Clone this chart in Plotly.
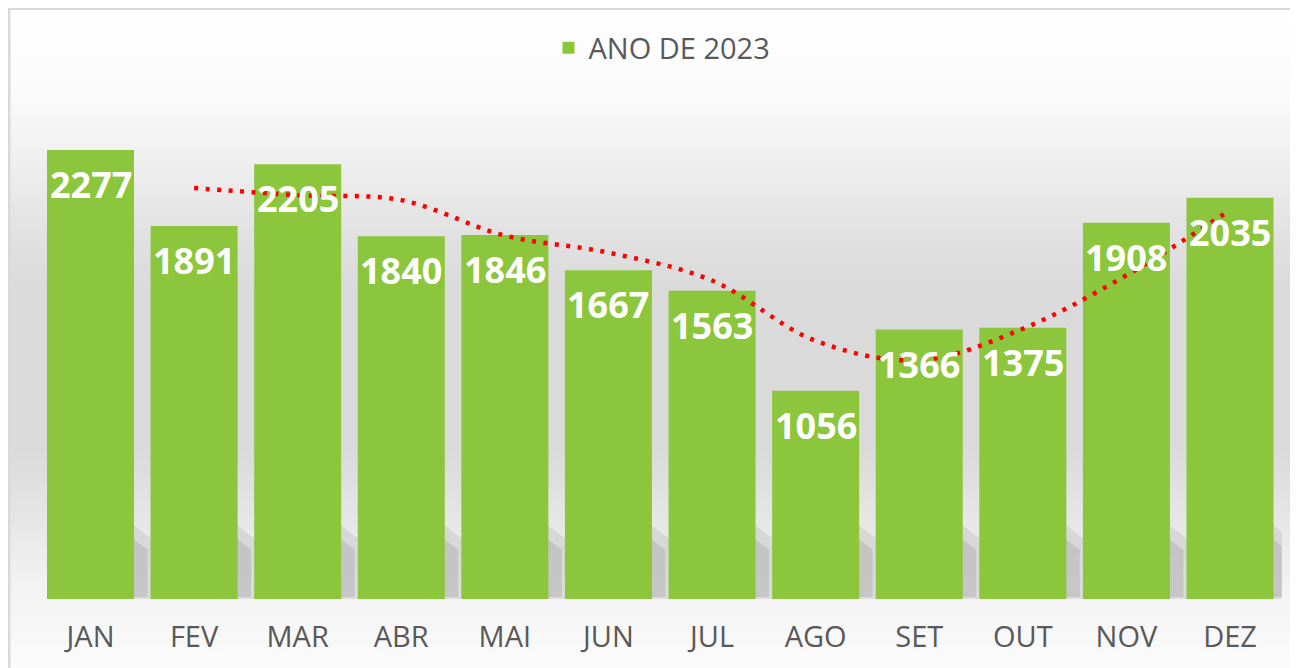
import plotly.graph_objects as go
import pandas as pd

months = ["JAN", "FEV", "MAR", "ABR", "MAI", "JUN", "JUL", "AGO", "SET", "OUT", "NOV", "DEZ"]
values = [2277, 1891, 2205, 1840, 1846, 1667, 1563, 1056, 1366, 1375, 1908, 2035]
series_name = "ANO DE 2023"

# Excel-style 2-period moving average trendline derived from the bar values
trend = pd.Series(values).rolling(2).mean().tolist()
trend = [None if pd.isna(v) else v for v in trend]

# page has an 8px body margin: screen coordinate = figure coordinate + 8
OFF = 8
W, H = 1290, 660
def px(x):
    return (x - OFF) / W
def py(y):
    return 1 - (y - OFF) / H

def hexmix(c1, c2, t):
    a = [int(c1[i:i + 2], 16) for i in (1, 3, 5)]
    b = [int(c2[i:i + 2], 16) for i in (1, 3, 5)]
    return "#" + "".join(f"{round(a[k] + (b[k] - a[k]) * t):02x}" for k in range(3))

stops = [(8, "#ffffff"), (90, "#fbfbfb"), (150, "#f1f1f1"), (230, "#e2e2e2"),
         (290, "#dadada"), (450, "#dadada"), (520, "#e6e6e6"), (590, "#f3f3f3"), (668, "#fbfbfb")]

def bg_color(y):
    for (y0, c0), (y1, c1) in zip(stops[:-1], stops[1:]):
        if y0 <= y <= y1:
            return hexmix(c0, c1, (y - y0) / (y1 - y0))
    return stops[-1][1]

shapes = []
step = 4
y = 8
while y < 668:
    shapes.append(dict(type="rect", xref="paper", yref="paper", layer="below",
                       x0=px(10), x1=1, y0=max(0, py(y + step)), y1=py(y),
                       fillcolor=bg_color(y + step / 2), line=dict(width=0)))
    y += step

# soft slanted shadows behind the bars
for i in range(len(months)):
    shapes.append(dict(type="path", xref="x", yref="y", layer="below",
                       path=f"M {i + 0.3},0 L {i + 0.6},0 L {i + 0.6},300 L {i + 0.3},420 Z",
                       fillcolor="rgba(200,200,200,0.55)", line=dict(width=0)))
    shapes.append(dict(type="path", xref="x", yref="y", layer="below",
                       path=f"M {i + 0.3},10 L {i + 0.55},10 L {i + 0.55},250 L {i + 0.3},350 Z",
                       fillcolor="rgba(180,180,180,0.55)", line=dict(width=0)))

# frame (left and top edges of the chart)
shapes.append(dict(type="line", xref="paper", yref="paper", x0=px(9.2), x1=px(9.2), y0=0, y1=1,
                   line=dict(color="#d9d9d9", width=2.5)))
shapes.append(dict(type="line", xref="paper", yref="paper", x0=0, x1=1, y0=py(8.8), y1=py(8.8),
                   line=dict(color="#d9d9d9", width=2.5)))

fig = go.Figure()
fig.add_trace(go.Bar(x=months, y=values, name=series_name,
                     marker=dict(color="#8cc63c", line=dict(width=0)),
                     showlegend=True))
fig.add_trace(go.Scatter(x=months, y=trend, mode="lines", showlegend=False,
                         line=dict(color="#ff0000", width=4.5, dash="4px,7.5px",
                                   shape="spline", smoothing=1.0),
                         hoverinfo="skip", connectgaps=False))

annotations = []
for m, v in zip(months, values):
    annotations.append(dict(x=m, y=v, xref="x", yref="y", text=f"<b>{v}</b>",
                            showarrow=False, yanchor="top", yshift=-8,
                            font=dict(family="Open Sans", size=36, color="#ffffff")))

fig.update_layout(
    width=W, height=H,
    margin=dict(l=0, r=0, t=0, b=0),
    paper_bgcolor="#ffffff",
    plot_bgcolor="rgba(0,0,0,0)",
    bargap=0.16,
    showlegend=True,
    legend=dict(orientation="h", x=px(662), xanchor="center", y=py(48), yanchor="middle",
                font=dict(family="Open Sans", size=29, color="#595959"),
                bgcolor="rgba(0,0,0,0)"),
    xaxis=dict(domain=[px(38.7), px(1281.8)], range=[-0.5, len(months) - 0.5],
               showgrid=False, zeroline=False, showline=False,
               ticks="", tickfont=dict(family="Open Sans", size=29, color="#595959"),
               ticklabelstandoff=18, fixedrange=True),
    yaxis=dict(domain=[py(599), py(106)], range=[0, 2500], showgrid=False, zeroline=False,
               showline=False, showticklabels=False, ticks="", fixedrange=True),
    shapes=shapes,
    annotations=annotations,
)

fig.write_html("out.html")
